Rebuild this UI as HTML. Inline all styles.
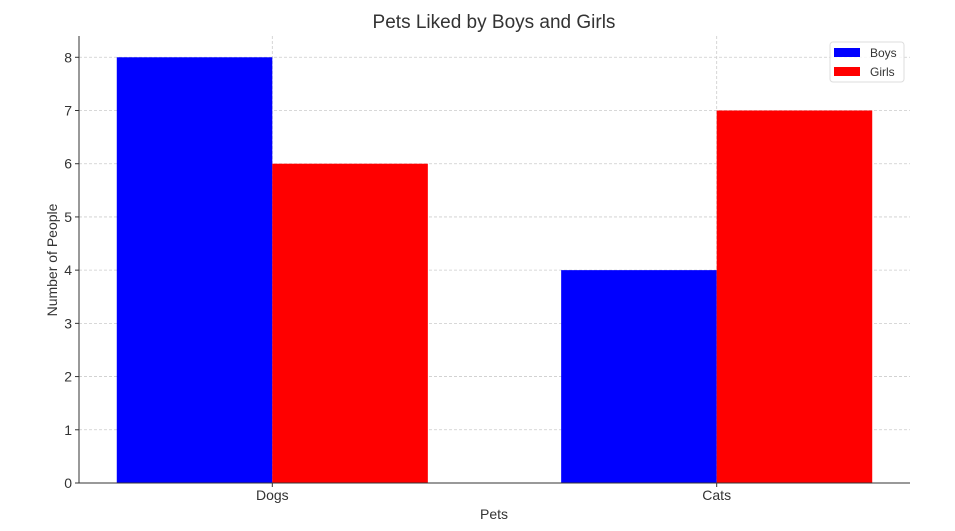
<!DOCTYPE html>
<html><head><meta charset="utf-8"><style>
body{margin:0;background:#fff;}
svg{display:block;font-family:"Liberation Sans","DejaVu Sans",sans-serif;}
</style></head><body>
<svg id="chart" width="955" height="531" xmlns="http://www.w3.org/2000/svg">
<text x="494" y="28" text-anchor="middle" font-size="19" fill="#333">Pets Liked by Boys and Girls</text>
<g id="grid"></g><g id="bars"></g><g id="axes"></g>
<text x="494" y="519" text-anchor="middle" font-size="14" fill="#333">Pets</text>
<text transform="translate(57,260) rotate(-90)" text-anchor="middle" font-size="14" fill="#333">Number of People</text>
<g>
<rect x="830" y="42" width="74" height="40" rx="3" fill="#fff" fill-opacity="0.8" stroke="#ddd"/>
<rect x="834" y="48" width="26" height="9" fill="#0000ff"/>
<text x="870" y="57" font-size="12" fill="#333">Boys</text>
<rect x="834" y="67" width="26" height="9" fill="#ff0000"/>
<text x="870" y="76" font-size="12" fill="#333">Girls</text>
</g>
</svg>
<script>
const categories=["Dogs","Cats"];
const boys=[8,4];
const girls=[6,7];
const yTicks=[0,1,2,3,4,5,6,7,8];
const NS="http://www.w3.org/2000/svg";
const L=79,R=910,T=36,B=483;
const xMin=-0.435,xMax=1.435,yMax=8.4,bw=0.35;
const xs=v=>L+(v-xMin)/(xMax-xMin)*(R-L);
const ys=v=>B-v/yMax*(B-T);
function mk(tag,attrs,parent){const e=document.createElementNS(NS,tag);for(const k in attrs)e.setAttribute(k,attrs[k]);parent.appendChild(e);return e;}
const grid=document.getElementById('grid'),bars=document.getElementById('bars'),axes=document.getElementById('axes');
yTicks.forEach(t=>{
  const g=mk('line',{x1:L,x2:R,y1:ys(t),y2:ys(t),stroke:'#ccc','stroke-dasharray':'3,2','stroke-width':0.8},grid);
  
  
  mk('line',{x1:L-4,x2:L,y1:ys(t),y2:ys(t),stroke:'#333'},axes);
  const tx=mk('text',{x:L-7,y:ys(t)+5,'text-anchor':'end','font-size':14,fill:'#333'},axes);
  tx.textContent=t;
  
  
});
categories.forEach((c,i)=>{
  const g=mk('line',{x1:xs(i),x2:xs(i),y1:T,y2:B,stroke:'#ccc','stroke-dasharray':'3,2','stroke-width':0.8},grid);
  
  
  const b=mk('rect',{x:xs(i-bw),y:ys(boys[i]),width:xs(i)-xs(i-bw),height:B-ys(boys[i]),fill:'#0000ff'},bars);
  
  
  const r=mk('rect',{x:xs(i),y:ys(girls[i]),width:xs(i+bw)-xs(i),height:B-ys(girls[i]),fill:'#ff0000'},bars);
  
  
  mk('line',{x1:xs(i),x2:xs(i),y1:B,y2:B+4,stroke:'#333'},axes);
  const tx=mk('text',{x:xs(i),y:B+17,'text-anchor':'middle','font-size':14,fill:'#333'},axes);
  tx.textContent=c;
  
  
});
const ya=mk('line',{x1:L,x2:L,y1:T,y2:B,stroke:'#333','stroke-width':1},axes);


const xa=mk('line',{x1:L,x2:R,y1:B,y2:B,stroke:'#333','stroke-width':1},axes);


</script>
</body></html>
